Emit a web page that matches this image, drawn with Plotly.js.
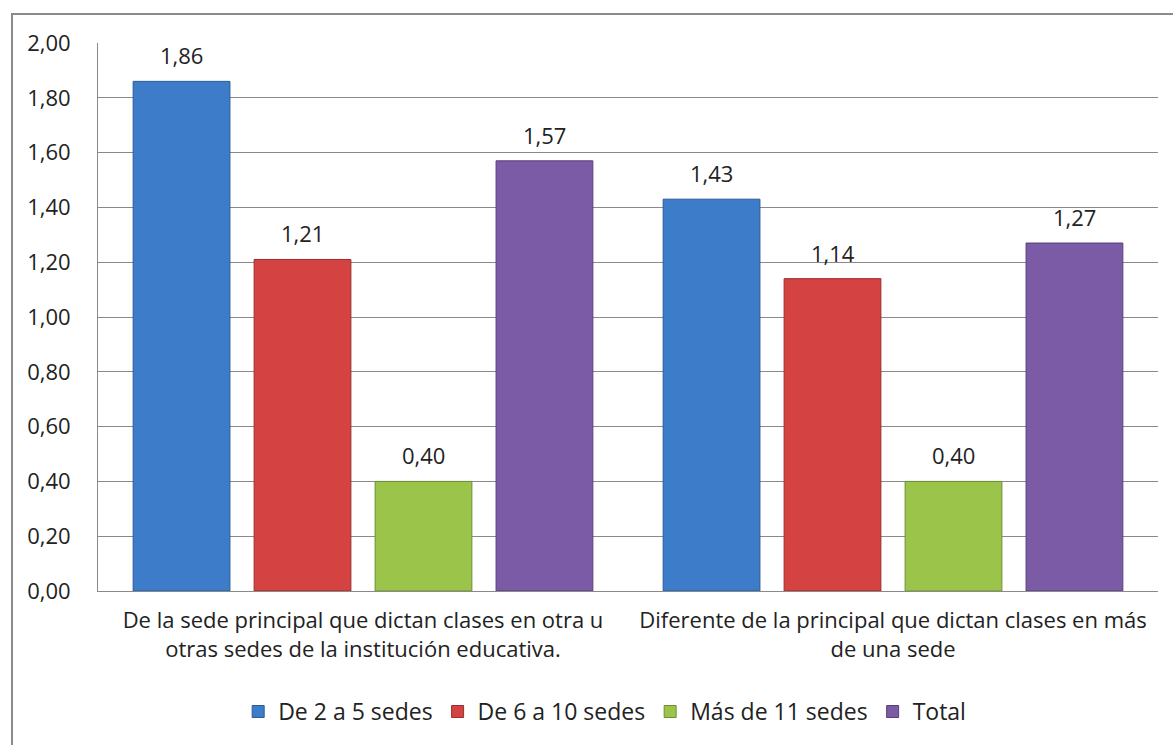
<!DOCTYPE html>
<html><head><meta charset="utf-8">
<script src="https://cdn.plot.ly/plotly-3.0.1.min.js"></script>
<style>html,body{margin:0;padding:0;background:#fff;overflow:hidden}
#frame{position:absolute;left:11px;top:13px;width:1200px;height:800px;border-left:2px solid #8a8a8a;border-top:2px solid #8a8a8a;pointer-events:none}
</style></head><body>
<div id="chart" style="width:1173px;height:745px"></div>
<div id="frame"></div>
<script>
const categories = [
  "De la sede principal que dictan clases en otra u<br>otras sedes de la institución educativa.",
  "Diferente de la principal que dictan clases en más<br>de una sede"
];
const seriesNames = ["De 2 a 5 sedes", "De 6 a 10 sedes", "Más de 11 sedes", "Total"];
const valuesDe2a5 = [1.86, 1.43];
const valuesDe6a10 = [1.21, 1.14];
const valuesMas11 = [0.40, 0.40];
const valuesTotal = [1.57, 1.27];
const yTicks = [0, 0.2, 0.4, 0.6, 0.8, 1.0, 1.2, 1.4, 1.6, 1.8, 2.0];

const seriesValues = [valuesDe2a5, valuesDe6a10, valuesMas11, valuesTotal];
const fills = ["#3d7cc9", "#d44242", "#9bc44a", "#7c5ba6"];
const edges = ["#2b5a94", "#9a2e2e", "#6f8f33", "#583f7a"];
const font = "Open Sans, sans-serif";

const traces = seriesNames.map((n, i) => ({
  type: "bar",
  name: n,
  x: categories,
  y: seriesValues[i],
  marker: {color: fills[i], line: {color: edges[i], width: 1}},
  hoverinfo: "none"
}));

// value labels placed above each bar (offset within the group in pixels)
const slot = 121;
const annotations = [];
seriesValues.forEach((vals, i) => {
  vals.forEach((v, j) => {
    annotations.push({
      x: categories[j], y: v, xref: "x", yref: "y",
      text: v.toFixed(2).replace(".", ","),
      showarrow: false, xanchor: "center", yanchor: "bottom",
      xshift: (i - 1.5) * slot, yshift: 9,
      font: {family: font, size: 22, color: "#222"}
    });
  });
});

const layout = {
  width: 1173, height: 745,
  margin: {l: 98, r: 15, t: 43, b: 154},
  paper_bgcolor: "#fff", plot_bgcolor: "#fff",
  separators: ",.",
  barmode: "group",
  bargap: 0.087,
  bargroupgap: 0.2,
  font: {family: font, size: 22, color: "#222"},
  xaxis: {
    showgrid: false, showline: true, linecolor: "#8a8a8a", linewidth: 1,
    ticks: "", ticklabelstandoff: 10,
    tickfont: {family: font, size: 22, color: "#222"}, automargin: false
  },
  yaxis: {
    range: [0, 2.0], tickvals: yTicks, tickformat: ".2f",
    showgrid: true, gridcolor: "#8a8a8a", gridwidth: 1,
    showline: true, linecolor: "#8a8a8a", linewidth: 1,
    ticks: "", ticklen: 0, ticklabelstandoff: 22,
    tickfont: {family: font, size: 22, color: "#222"},
    zeroline: false, automargin: false
  },
  annotations: annotations,
  showlegend: true,
  legend: {orientation: "h", x: 0.478, xanchor: "center", y: -0.22, yanchor: "middle",
    font: {family: font, size: 23, color: "#222"}, traceorder: "normal", itemwidth: 30}
};
Plotly.newPlot("chart", traces, layout, {displayModeBar: false, staticPlot: true});
</script></body></html>
